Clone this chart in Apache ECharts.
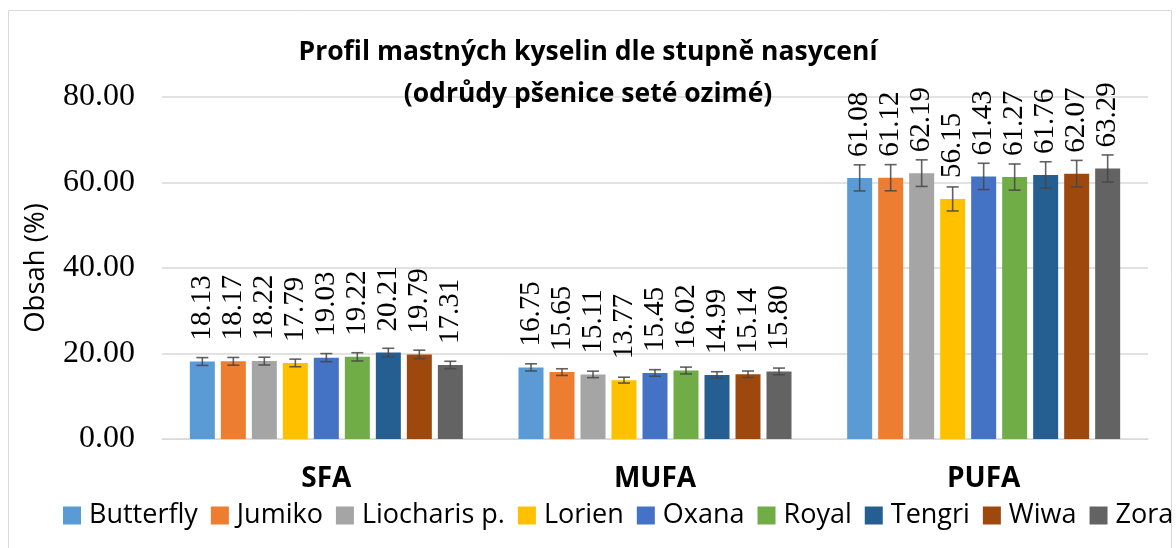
<!DOCTYPE html>
<html>
<head>
<meta charset="utf-8">
<script src="https://cdn.jsdelivr.net/npm/echarts@6/dist/echarts.min.js"></script>
<style>
  html, body { margin: 0; padding: 0; background: #fff; }
  #main { width: 1176px; height: 548px; }
</style>
</head>
<body>
<div id="main"></div>
<script>
// kategorie a odrůdy
var categories = ['SFA', 'MUFA', 'PUFA'];
var varieties = ['Butterfly', 'Jumiko', 'Liocharis p.', 'Lorien', 'Oxana', 'Royal', 'Tengri', 'Wiwa', 'Zora'];
var colors = ['#5B9BD5', '#ED7D31', '#A5A5A5', '#FFC000', '#4472C4', '#70AD47', '#255E91', '#9E480E', '#636363'];

// hodnoty po odrůdách: [SFA, MUFA, PUFA]
var butterfly = [18.13, 16.75, 61.08];
var jumiko = [18.17, 15.65, 61.12];
var liocharis = [18.22, 15.11, 62.19];
var lorien = [17.79, 13.77, 56.15];
var oxana = [19.03, 15.45, 61.43];
var royal = [19.22, 16.02, 61.27];
var tengri = [20.21, 14.99, 61.76];
var wiwa = [19.79, 15.14, 62.07];
var zora = [17.31, 15.80, 63.29];

// chybové úsečky
var errButterfly = [0.91, 0.84, 3.05];
var errJumiko = [0.91, 0.78, 3.06];
var errLiocharis = [0.91, 0.76, 3.11];
var errLorien = [0.89, 0.69, 2.81];
var errOxana = [0.95, 0.77, 3.07];
var errRoyal = [0.96, 0.80, 3.06];
var errTengri = [1.01, 0.75, 3.09];
var errWiwa = [0.99, 0.76, 3.10];
var errZora = [0.87, 0.79, 3.16];

var yTicks = [0, 20, 40, 60, 80];

var values = [butterfly, jumiko, liocharis, lorien, oxana, royal, tengri, wiwa, zora];
var errors = [errButterfly, errJumiko, errLiocharis, errLorien, errOxana, errRoyal, errTengri, errWiwa, errZora];

var barWidth = 25;
var barGapPx = 6;
var pitch = barWidth + barGapPx;

var series = [];
varieties.forEach(function (name, i) {
  series.push({
    name: name,
    type: 'bar',
    barWidth: barWidth,
    barGap: (barGapPx / barWidth * 100) + '%',
    barCategoryGap: '16%',
    itemStyle: { color: colors[i] },
    label: {
      show: true,
      position: 'top',
      rotate: 90,
      align: 'left',
      verticalAlign: 'middle',
      distance: 21,
      fontFamily: 'Liberation Serif',
      fontSize: 29,
      color: '#000',
      formatter: function (p) { return p.value.toFixed(2); }
    },
    data: values[i]
  });
});

// chybové úsečky jako custom series
varieties.forEach(function (name, i) {
  var errData = values[i].map(function (v, c) { return [c, v, errors[i][c]]; });
  series.push({
    name: name,
    type: 'custom',
    z: 5,
    silent: true,
    renderItem: function (params, api) {
      var c = api.value(0);
      var v = api.value(1);
      var e = api.value(2);
      var top = api.coord([c, v + e]);
      var bot = api.coord([c, v - e]);
      var x = top[0] + (i - (varieties.length - 1) / 2) * pitch;
      var cap = 6;
      var style = { stroke: 'rgba(70,70,70,0.85)', lineWidth: 1.6 };
      return {
        type: 'group',
        children: [
          { type: 'line', shape: { x1: x, y1: top[1], x2: x, y2: bot[1] }, style: style },
          { type: 'line', shape: { x1: x - cap, y1: top[1], x2: x + cap, y2: top[1] }, style: style },
          { type: 'line', shape: { x1: x - cap, y1: bot[1], x2: x + cap, y2: bot[1] }, style: style }
        ]
      };
    },
    encode: { x: 0, y: 1 },
    data: errData
  });
});

var myChart = echarts.init(document.getElementById('main'));

var option = {
  backgroundColor: '#fff',
  animation: false,
  title: {
    text: 'Profil mastných kyselin dle stupně nasycení\n(odrůdy pšenice seté ozimé)',
    left: 'center',
    top: 26,
    textStyle: {
      fontFamily: 'Open Sans',
      fontWeight: 'bold',
      fontSize: 26.5,
      lineHeight: 42,
      color: '#000'
    }
  },
  graphic: [{
    type: 'rect',
    shape: { x: 8.5, y: 10.5, width: 1163, height: 600 },
    style: { fill: 'none', stroke: '#d9d9d9', lineWidth: 1 },
    silent: true
  }],
  legend: {
    data: varieties,
    top: 497,
    left: 58,
    width: 1200,
    itemWidth: 18,
    itemHeight: 18,
    itemGap: 13,
    icon: 'rect',
    textStyle: { fontFamily: 'Open Sans', fontSize: 27, color: '#000', padding: [0, 0, 0, 3] }
  },
  grid: { left: 162, right: 28, top: 97, bottom: 109 },
  xAxis: {
    type: 'category',
    data: categories,
    axisLine: { lineStyle: { color: '#d9d9d9' } },
    axisTick: { show: false },
    axisLabel: {
      margin: 26,
      fontFamily: 'Open Sans',
      fontWeight: 'bold',
      fontSize: 28,
      color: '#000'
    }
  },
  yAxis: {
    type: 'value',
    min: yTicks[0],
    max: yTicks[yTicks.length - 1],
    interval: 20,
    name: 'Obsah (%)',
    nameLocation: 'middle',
    nameGap: 112,
    nameTextStyle: { fontFamily: 'Open Sans', fontSize: 27.5, color: '#000' },
    axisLine: { show: false },
    axisTick: { show: false },
    splitLine: { lineStyle: { color: '#d9d9d9', width: 1.5 } },
    axisLabel: {
      margin: 27,
      fontFamily: 'Liberation Serif',
      fontSize: 32,
      color: '#000',
      formatter: function (v) { return v.toFixed(2); }
    }
  },
  series: series
};

myChart.setOption(option);
</script>
</body>
</html>
